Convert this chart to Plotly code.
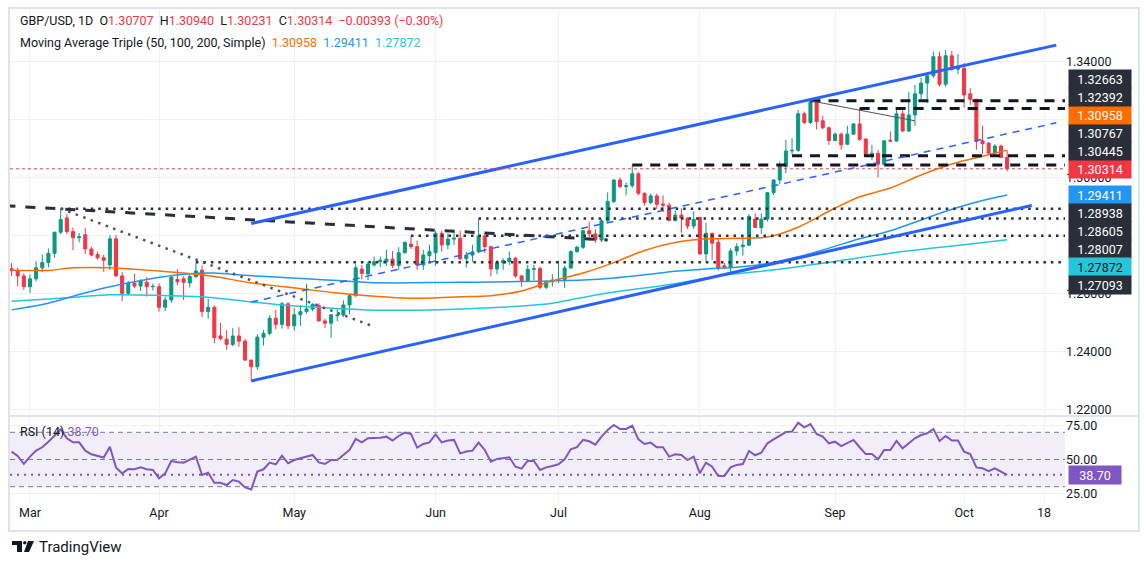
import pandas as pd
import plotly.graph_objects as go

# GBP/USD daily, 27 Feb - 10 Oct 2024
dates = pd.bdate_range("2024-02-27", "2024-10-10")

open_ = [
    1.2687, 1.2680, 1.2662,  # Feb
    1.2625, 1.2652, 1.2690, 1.2708, 1.2740, 1.2813, 1.2862, 1.2815, 1.2794, 1.2804, 1.2755,
    1.2736, 1.2725, 1.2700, 1.2790, 1.2662, 1.2602, 1.2637, 1.2627, 1.2640, 1.2625,  # Mar
    1.2625, 1.2554, 1.2579, 1.2650, 1.2652, 1.2638, 1.2660, 1.2682, 1.2539, 1.2554, 1.2455,
    1.2444, 1.2426, 1.2455, 1.2437, 1.2372, 1.2349, 1.2451, 1.2464, 1.2516, 1.2495, 1.2566,  # Apr
    1.2490, 1.2528, 1.2539, 1.2548, 1.2560, 1.2507, 1.2499, 1.2525, 1.2527, 1.2562, 1.2594,
    1.2686, 1.2669, 1.2700, 1.2712, 1.2711, 1.2720, 1.2698, 1.2742, 1.2772, 1.2763, 1.2700, 1.2732,  # May
    1.2742, 1.2809, 1.2769, 1.2789, 1.2792, 1.2721, 1.2734, 1.2745, 1.2800, 1.2763,
    1.2686, 1.2707, 1.2712, 1.2723, 1.2662, 1.2646, 1.2685, 1.2688, 1.2623, 1.2642,  # Jun
    1.2648, 1.2650, 1.2689, 1.2746, 1.2761, 1.2818, 1.2807, 1.2786, 1.2852, 1.2919, 1.2993, 1.2970,
    1.2973, 1.3014, 1.2947, 1.2915, 1.2938, 1.2910, 1.2906, 1.2853, 1.2872, 1.2861, 1.2834,  # Jul
    1.2864, 1.2738, 1.2809, 1.2778, 1.2697, 1.2691, 1.2748, 1.2763, 1.2768, 1.2858, 1.2829,
    1.2858, 1.2949, 1.2993, 1.3039, 1.3093, 1.3095, 1.3221, 1.3191, 1.3262, 1.3197, 1.3173,  # Aug
    1.3129, 1.3151, 1.3116, 1.3151, 1.3186, 1.3134, 1.3076, 1.3085, 1.3047, 1.3130, 1.3127,
    1.3221, 1.3162, 1.3217, 1.3290, 1.3327, 1.3352, 1.3418, 1.3323, 1.3421, 1.3375,  # Sep
    1.3378, 1.3290, 1.3271, 1.3128, 1.3120, 1.3085, 1.3110, 1.30707,  # Oct
]
high = [
    1.2706, 1.2690, 1.2671,
    1.2667, 1.2712, 1.2736, 1.2757, 1.2813, 1.2894, 1.2876, 1.2829, 1.2810, 1.2827, 1.2762,
    1.2746, 1.2735, 1.2803, 1.2803, 1.2675, 1.2645, 1.2670, 1.2651, 1.2658, 1.2636,
    1.2636, 1.2590, 1.2666, 1.2685, 1.2660, 1.2670, 1.2709, 1.2698, 1.2583, 1.2560, 1.2500,
    1.2475, 1.2482, 1.2485, 1.2445, 1.2372, 1.2461, 1.2475, 1.2527, 1.2545, 1.2572, 1.2571,
    1.2551, 1.2562, 1.2634, 1.2568, 1.2568, 1.2515, 1.2530, 1.2548, 1.2578, 1.2594, 1.2703,
    1.2700, 1.2711, 1.2729, 1.2729, 1.2752, 1.2748, 1.2761, 1.2780, 1.2801, 1.2784, 1.2752, 1.2769,
    1.2818, 1.2817, 1.2809, 1.2815, 1.2818, 1.2745, 1.2769, 1.2860, 1.2810, 1.2763,
    1.2717, 1.2723, 1.2746, 1.2728, 1.2666, 1.2700, 1.2700, 1.2694, 1.2645, 1.2668,
    1.2715, 1.2697, 1.2750, 1.2766, 1.2818, 1.2849, 1.2823, 1.2858, 1.2950, 1.2995, 1.3001, 1.2985,
    1.3044, 1.3020, 1.2950, 1.2946, 1.2946, 1.2940, 1.2915, 1.2888, 1.2895, 1.2864, 1.2885,
    1.2864, 1.2846, 1.2811, 1.2792, 1.2707, 1.2757, 1.2775, 1.2798, 1.2875, 1.2878, 1.2878,
    1.2952, 1.2995, 1.3056, 1.3131, 1.3137, 1.3234, 1.3229, 1.3266, 1.3266, 1.3215, 1.3177,
    1.3157, 1.3157, 1.3180, 1.3189, 1.3239, 1.3137, 1.3114, 1.3097, 1.3131, 1.3160, 1.3234,
    1.3234, 1.3297, 1.3321, 1.3346, 1.3364, 1.3436, 1.3436, 1.3441, 1.3438, 1.3427,
    1.3396, 1.3309, 1.3271, 1.3180, 1.3123, 1.3116, 1.3115, 1.30940,
]
low = [
    1.2662, 1.2626, 1.2614,
    1.2603, 1.2643, 1.2675, 1.2692, 1.2725, 1.2806, 1.2806, 1.2751, 1.2778, 1.2738, 1.2730,
    1.2718, 1.2676, 1.2683, 1.2658, 1.2575, 1.2598, 1.2620, 1.2610, 1.2591, 1.2612,
    1.2539, 1.2541, 1.2569, 1.2631, 1.2579, 1.2622, 1.2655, 1.2520, 1.2514, 1.2430, 1.2439,
    1.2407, 1.2419, 1.2418, 1.2368, 1.2300, 1.2338, 1.2422, 1.2458, 1.2478, 1.2480, 1.2478,
    1.2473, 1.2490, 1.2532, 1.2540, 1.2505, 1.2482, 1.2449, 1.2506, 1.2520, 1.2530, 1.2590,
    1.2650, 1.2648, 1.2694, 1.2692, 1.2697, 1.2689, 1.2683, 1.2740, 1.2755, 1.2683, 1.2683, 1.2711,
    1.2697, 1.2746, 1.2754, 1.2769, 1.2717, 1.2691, 1.2711, 1.2741, 1.2742, 1.2660,
    1.2668, 1.2683, 1.2700, 1.2656, 1.2625, 1.2642, 1.2648, 1.2616, 1.2617, 1.2625,
    1.2638, 1.2620, 1.2688, 1.2742, 1.2755, 1.2784, 1.2776, 1.2779, 1.2845, 1.2913, 1.2965, 1.2940,
    1.2966, 1.2940, 1.2905, 1.2910, 1.2893, 1.2882, 1.2850, 1.2850, 1.2811, 1.2824, 1.2824,
    1.2735, 1.2711, 1.2717, 1.2680, 1.2686, 1.2671, 1.2732, 1.2732, 1.2765, 1.2827, 1.2806,
    1.2850, 1.2941, 1.2978, 1.3016, 1.3082, 1.3090, 1.3185, 1.3186, 1.3167, 1.3168, 1.3114,
    1.3127, 1.3097, 1.3114, 1.3148, 1.3128, 1.3073, 1.3062, 1.3002, 1.3042, 1.3123, 1.3125,
    1.3158, 1.3158, 1.3180, 1.3272, 1.3258, 1.3345, 1.3315, 1.3314, 1.3369, 1.3358,
    1.3242, 1.3252, 1.3097, 1.3082, 1.3079, 1.3073, 1.3068, 1.30231,
]
close = [
    1.2680, 1.2662, 1.2625,
    1.2652, 1.2690, 1.2708, 1.2740, 1.2813, 1.2856, 1.2815, 1.2794, 1.2797, 1.2755, 1.2734,
    1.2725, 1.2716, 1.2790, 1.2662, 1.2602, 1.2637, 1.2627, 1.2646, 1.2625, 1.2626,
    1.2554, 1.2579, 1.2658, 1.2642, 1.2640, 1.2660, 1.2679, 1.2539, 1.2554, 1.2449, 1.2446,
    1.2426, 1.2455, 1.2437, 1.2372, 1.2349, 1.2451, 1.2464, 1.2516, 1.2495, 1.2566, 1.2490,
    1.2528, 1.2539, 1.2548, 1.2564, 1.2507, 1.2499, 1.2528, 1.2527, 1.2562, 1.2594, 1.2690,
    1.2671, 1.2703, 1.2711, 1.2716, 1.2720, 1.2698, 1.2742, 1.2778, 1.2763, 1.2700, 1.2734, 1.2746,
    1.2809, 1.2769, 1.2789, 1.2792, 1.2721, 1.2734, 1.2745, 1.2800, 1.2763, 1.2686,
    1.2708, 1.2715, 1.2723, 1.2662, 1.2646, 1.2685, 1.2687, 1.2623, 1.2642, 1.2648,
    1.2650, 1.2689, 1.2746, 1.2761, 1.2818, 1.2807, 1.2786, 1.2852, 1.2919, 1.2993, 1.2970, 1.2973,
    1.3014, 1.2947, 1.2915, 1.2938, 1.2909, 1.2906, 1.2853, 1.2872, 1.2861, 1.2834, 1.2857,
    1.2738, 1.2809, 1.2775, 1.2689, 1.2691, 1.2748, 1.2763, 1.2768, 1.2867, 1.2829, 1.2858,
    1.2949, 1.2993, 1.3039, 1.3093, 1.3095, 1.3221, 1.3191, 1.3262, 1.3194, 1.3173, 1.3129,
    1.3151, 1.3114, 1.3151, 1.3186, 1.3133, 1.3076, 1.3085, 1.3047, 1.3128, 1.3127, 1.3221,
    1.3162, 1.3217, 1.3290, 1.3327, 1.3352, 1.3418, 1.3323, 1.3421, 1.3375, 1.3378,
    1.3286, 1.3271, 1.3126, 1.3118, 1.3085, 1.3110, 1.30707, 1.30314,
]

# RSI (14)
rsi = [
    55.8, 52.6, 46.7,
    52.1, 56.5, 59.0, 63.1, 68.0, 72.2, 65.6, 62.6, 62.6, 56.5, 53.8, 52.6, 51.4, 59.4, 44.2, 39.8,
    43.0, 42.8, 44.2, 42.8, 42.3,
    36.1, 39.8, 48.9, 47.9, 47.7, 49.6, 52.1, 38.6, 40.3, 32.9, 32.9, 31.2, 34.9, 33.7, 29.5, 28.0,
    41.1, 42.8, 47.7, 46.4, 52.8, 47.2,
    49.6, 50.9, 52.1, 53.3, 47.9, 46.7, 49.6, 49.6, 53.3, 57.0, 65.1, 62.6, 65.6, 65.8, 66.0, 66.8,
    63.9, 67.3, 69.8, 68.8, 58.7, 61.4, 62.6,
    68.5, 62.6, 63.9, 64.4, 54.5, 55.8, 56.5, 62.4, 57.0, 48.4, 50.4, 50.9, 51.6, 44.7, 43.3, 49.1,
    48.9, 42.3, 44.2, 45.2,
    46.5, 50.1, 57.5, 59.0, 64.4, 63.4, 60.9, 66.8, 71.7, 75.4, 72.5, 72.5, 74.9, 64.8, 61.4, 62.4,
    59.0, 59.0, 52.1, 53.8, 53.3, 49.6, 52.1,
    39.8, 47.7, 44.7, 37.9, 37.9, 44.2, 46.0, 46.7, 56.3, 53.1, 55.0, 61.9, 64.8, 67.3, 70.2, 70.5,
    77.1, 73.7, 76.1, 68.8, 66.8, 61.9,
    63.1, 59.9, 61.9, 64.4, 59.0, 54.0, 54.0, 50.1, 57.0, 57.0, 63.6, 58.2, 61.9, 65.6, 68.0, 69.3,
    72.5, 63.6, 67.3, 63.9, 63.9,
    55.8, 54.0, 44.2, 43.5, 41.5, 43.5, 41.0, 38.70,
]
assert len(dates) == len(open_) == len(high) == len(low) == len(close) == len(rsi)

# moving averages, read at roughly weekly points
ma50_dates = ["2024-02-27", "2024-03-06", "2024-03-12", "2024-03-20", "2024-03-26", "2024-04-01",
              "2024-04-05", "2024-04-12", "2024-04-22", "2024-05-02", "2024-05-10", "2024-05-20",
              "2024-05-28", "2024-06-07", "2024-06-14", "2024-06-21", "2024-06-28", "2024-07-05",
              "2024-07-12", "2024-07-19", "2024-07-26", "2024-08-02", "2024-08-09", "2024-08-16",
              "2024-08-23", "2024-08-30", "2024-09-06", "2024-09-13", "2024-09-20", "2024-09-27",
              "2024-10-04", "2024-10-10"]
ma50 = [1.2682, 1.2681, 1.2690, 1.2690, 1.2685, 1.2679, 1.2672, 1.2660, 1.2638, 1.2618, 1.2603,
        1.2592, 1.2585, 1.2590, 1.2594, 1.2610, 1.2645, 1.2672, 1.2708, 1.2750, 1.2777, 1.2790,
        1.2792, 1.2796, 1.2830, 1.2885, 1.2935, 1.2965, 1.3010, 1.3048, 1.3075, 1.30958]

ma100_dates = ["2024-02-27", "2024-03-06", "2024-03-13", "2024-03-20", "2024-03-28", "2024-04-05",
               "2024-04-12", "2024-04-19", "2024-04-26", "2024-05-03", "2024-05-10", "2024-05-17",
               "2024-05-24", "2024-05-31", "2024-06-07", "2024-06-14", "2024-06-21", "2024-06-28",
               "2024-07-05", "2024-07-12", "2024-07-19", "2024-07-26", "2024-08-02", "2024-08-09",
               "2024-08-16", "2024-08-23", "2024-08-30", "2024-09-06", "2024-09-13", "2024-09-20",
               "2024-09-27", "2024-10-04", "2024-10-10"]
ma100 = [1.2545, 1.2568, 1.2598, 1.2625, 1.2650, 1.2668, 1.2672, 1.2664, 1.2658, 1.2652, 1.2646,
         1.2639, 1.2638, 1.2639, 1.2640, 1.2641, 1.2643, 1.2645, 1.2648, 1.2655, 1.2666, 1.2678,
         1.2686, 1.2692, 1.2705, 1.2728, 1.2758, 1.2790, 1.2818, 1.2855, 1.2892, 1.2922, 1.29411]

ma200_dates = ["2024-02-27", "2024-03-08", "2024-03-20", "2024-04-01", "2024-04-10", "2024-04-19",
               "2024-04-30", "2024-05-10", "2024-05-20", "2024-05-31", "2024-06-14", "2024-06-28",
               "2024-07-10", "2024-07-26", "2024-08-06", "2024-08-20", "2024-09-02", "2024-09-17",
               "2024-10-01", "2024-10-10"]
ma200 = [1.2575, 1.2585, 1.2597, 1.2595, 1.2590, 1.2575, 1.2560, 1.2550, 1.2544, 1.2545, 1.2552,
         1.2568, 1.2600, 1.2635, 1.2662, 1.2685, 1.2712, 1.2746, 1.2770, 1.27872]

# drawn levels: (price, start date)
dashed_levels = [(1.32663, "2024-08-27"), (1.32392, "2024-09-06"),
                 (1.30767, "2024-08-22"), (1.30445, "2024-07-17")]
dotted_levels = [(1.28938, "2024-03-08"), (1.28605, "2024-06-12"),
                 (1.28007, "2024-05-28"), (1.27093, "2024-04-09")]

# trend lines: (start date, start price, end date, end price)
channel_top = ("2024-04-22", 1.2843, "2024-10-22", 1.3458)
channel_bottom = ("2024-04-22", 1.2300, "2024-10-16", 1.2905)
channel_mid = ("2024-04-22", 1.2572, "2024-10-22", 1.3190)
old_resistance = ("2024-02-26", 1.2904, "2024-07-11", 1.2786)
march_downtrend = ("2024-03-08", 1.2894, "2024-05-20", 1.2487)
aug_top_line = ("2024-08-27", 1.3266, "2024-09-19", 1.3197)

tick_dates = ["2024-03-01", "2024-04-01", "2024-05-01", "2024-06-03", "2024-07-01",
              "2024-08-01", "2024-09-02", "2024-10-01", "2024-10-18"]
tick_labels = ["Mar", "Apr", "May", "Jun", "Jul", "Aug", "Sep", "Oct", "18"]
price_ticks = [1.22, 1.24, 1.26, 1.28, 1.30, 1.32, 1.34]
# 1.28 and 1.32 sit fully under the level labels, so they get no text
price_tick_text = ["1.22000", "1.24000", "1.26000", "", "1.30000", "", "1.34000"]
rsi_ticks = [25, 50, 75]

# colours
UP, DOWN = "#089981", "#f23645"
ORANGE, BLUE, TEAL = "#ff6d00", "#2196f3", "#26c6da"
PURPLE = "#7e57c2"
LINE_BLUE = "#2962ff"
INK = "#131722"
GRID = "#eef1f6"
LABEL_BG = "#2a2e39"
FONT = "Trebuchet MS, Roboto, sans-serif"

# page geometry (pixels)
W, H = 1144, 563
ML, MR, MT, MB = 10, 79, 10, 60
PW, PH = W - ML - MR, H - MT - MB


def px(x):
    return (x - ML) / PW


def py(y):
    return (H - MB - y) / PH


x_range = ["2024-02-26 18:00", "2024-10-23 10:00"]
y_range = [1.2186, 1.3579]
rsi_range = [18.0, 81.25]
breaks = [dict(bounds=["sat", "mon"])]

fig = go.Figure()

fig.add_trace(go.Candlestick(
    x=dates, open=open_, high=high, low=low, close=close,
    increasing=dict(line=dict(color=UP, width=1), fillcolor=UP),
    decreasing=dict(line=dict(color=DOWN, width=1), fillcolor=DOWN),
    whiskerwidth=0, hoverinfo="skip", xaxis="x", yaxis="y",
))
for d, v, c in [(ma200_dates, ma200, TEAL), (ma100_dates, ma100, BLUE), (ma50_dates, ma50, ORANGE)]:
    fig.add_trace(go.Scatter(x=d, y=v, mode="lines", line=dict(color=c, width=1.5, shape="spline", smoothing=0.8),
                             hoverinfo="skip", xaxis="x", yaxis="y"))

fig.add_trace(go.Scatter(x=dates, y=rsi, mode="lines", line=dict(color=PURPLE, width=2),
                         hoverinfo="skip", xaxis="x2", yaxis="y2"))

shapes = []


def seg(line, color, width, dash="solid"):
    x0, y0, x1, y1 = line
    shapes.append(dict(type="line", xref="x", yref="y", x0=x0, y0=y0, x1=x1, y1=y1,
                       line=dict(color=color, width=width, dash=dash)))


for price, start in dashed_levels:
    seg((start, price, x_range[1], price), INK, 3, "10px,8px")
for price, start in dotted_levels:
    seg((start, price, x_range[1], price), "#2a2e39", 2.5, "2.5px,5px")
seg(old_resistance, "#2a2e39", 3, "10px,10px")
seg(march_downtrend, "#50535e", 2.5, "2.5px,5.5px")
seg(aug_top_line, "#50535e", 1)
seg(channel_mid, LINE_BLUE, 1.5, "7px,6px")
seg(channel_top, LINE_BLUE, 3)
seg(channel_bottom, LINE_BLUE, 3)

# last price line
shapes.append(dict(type="line", xref="x domain", yref="y", x0=0, x1=1, y0=close[-1], y1=close[-1],
                   line=dict(color=DOWN, width=1, dash="dot")))

# RSI band and levels
shapes.append(dict(type="rect", xref="x2 domain", yref="y2", x0=0, x1=1, y0=30, y1=70,
                   fillcolor="rgba(126,87,194,0.1)", line=dict(width=0), layer="below"))
for lvl in (70, 50, 30):
    shapes.append(dict(type="line", xref="x2 domain", yref="y2", x0=0, x1=1, y0=lvl, y1=lvl,
                       line=dict(color="#787b86", width=1, dash="5px,4px")))
shapes.append(dict(type="line", xref="x2 domain", yref="y2", x0=0, x1=1, y0=rsi[-1], y1=rsi[-1],
                   line=dict(color=PURPLE, width=2, dash="2px,5px")))

# frame, pane separator
shapes.append(dict(type="rect", xref="paper", yref="paper", x0=px(9), x1=px(1139), y0=py(531), y1=py(8),
                   line=dict(color="#e0e3eb", width=2), fillcolor="rgba(0,0,0,0)"))
shapes.append(dict(type="line", xref="paper", yref="paper", x0=px(9), x1=px(1139), y0=py(416), y1=py(416),
                   line=dict(color="#e0e3eb", width=2)))

# TradingView logo
logo = [(12, 541, 22, 545), (17, 545, 22, 552)]
for x0, y0, x1, y1 in logo:
    shapes.append(dict(type="rect", xref="paper", yref="paper", x0=px(x0), x1=px(x1), y0=py(y1), y1=py(y0),
                       fillcolor=INK, line=dict(width=0)))
shapes.append(dict(type="circle", xref="paper", yref="paper", x0=px(23), x1=px(26.5), y0=py(544.5), y1=py(541),
                   fillcolor=INK, line=dict(width=0)))
shapes.append(dict(type="path", xref="paper", yref="paper",
                   path=f"M {px(28)} {py(541)} L {px(34)} {py(541)} L {px(29)} {py(552)} L {px(24)} {py(552)} Z",
                   fillcolor=INK, line=dict(width=0)))

annotations = []


def span(text, color):
    return f"<span style='color:{color}'>{text}</span>"


sp = "\u00a0\u00a0"
chg = close[-1] - close[-2]
pct = chg / close[-2] * 100
header1 = ("GBP/USD, 1D" + sp + "O" + span(f"{open_[-1]:.5f}", DOWN) + sp + "H" + span(f"{high[-1]:.5f}", DOWN)
           + sp + "L" + span(f"{low[-1]:.5f}", DOWN) + sp + "C" + span(f"{close[-1]:.5f}", DOWN) + sp
           + span(f"{chg:.5f} ({pct:.2f}%)".replace("-", "\u2212"), DOWN))
header2 = ("Moving Average Triple (50, 100, 200, Simple)" + sp + span(f"{ma50[-1]:.5f}", ORANGE) + sp
           + span(f"{ma100[-1]:.5f}", BLUE) + sp + span(f"{ma200[-1]:.5f}", TEAL))
for text, y in [(header1, 21), (header2, 43)]:
    annotations.append(dict(xref="paper", yref="paper", x=px(18), y=py(y), xanchor="left", yanchor="middle",
                            text=text, showarrow=False, font=dict(family=FONT, size=12.5, color=INK)))
annotations.append(dict(xref="paper", yref="paper", x=px(18), y=py(431), xanchor="left", yanchor="middle",
                        text="RSI (14)" + "\u00a0" + span(f"{rsi[-1]:.2f}", PURPLE), showarrow=False,
                        font=dict(family=FONT, size=12.5, color=INK)))
annotations.append(dict(xref="paper", yref="paper", x=px(37), y=py(547), xanchor="left", yanchor="middle",
                        text="TradingView", showarrow=False, font=dict(family="Roboto", size=15, color=INK)))

# price-scale labels, stacked away from the last price like TradingView does
labels = [(p, LABEL_BG, "white") for p, _ in dashed_levels + dotted_levels]
labels += [(ma50[-1], ORANGE, "white"), (ma100[-1], BLUE, "white"), (ma200[-1], TEAL, INK)]
gap = 18 * (y_range[1] - y_range[0]) / 404
placed = [(close[-1], close[-1], DOWN, "white")]
prev = close[-1]
for p, bg, fg in sorted([l for l in labels if l[0] > close[-1]]):
    prev = max(p, prev + gap)
    placed.append((p, prev, bg, fg))
prev = close[-1]
for p, bg, fg in sorted([l for l in labels if l[0] < close[-1]], reverse=True):
    prev = min(p, prev - gap)
    placed.append((p, prev, bg, fg))
for p, y, bg, fg in placed:
    annotations.append(dict(xref="paper", yref="y", x=1, y=y, xanchor="left", yanchor="middle", xshift=3,
                            text=f"{p:.5f}", showarrow=False, bgcolor=bg, width=60, height=16,
                            font=dict(family=FONT, size=12.5, color=fg)))
annotations.append(dict(xref="paper", yref="y2", x=1, y=rsi[-1], xanchor="left", yanchor="middle", xshift=3,
                        text=f"{rsi[-1]:.2f}", showarrow=False, bgcolor=PURPLE, width=50, height=16,
                        font=dict(family=FONT, size=12.5, color="white")))

axis_font = dict(family=FONT, size=12.5, color=INK)
fig.update_layout(
    width=W, height=H, margin=dict(l=ML, r=MR, t=MT, b=MB),
    paper_bgcolor="white", plot_bgcolor="white", showlegend=False,
    xaxis=dict(domain=[0, 1], anchor="y", type="date", range=x_range, rangebreaks=breaks,
               tickvals=tick_dates, showticklabels=False, showgrid=True, gridcolor=GRID,
               zeroline=False, rangeslider=dict(visible=False)),
    yaxis=dict(domain=[py(414), 1], anchor="x", side="right", range=y_range, tickvals=price_ticks,
               ticktext=price_tick_text, showgrid=True, gridcolor=GRID, zeroline=False, tickfont=axis_font),
    xaxis2=dict(domain=[0, 1], anchor="y2", type="date", range=x_range, rangebreaks=breaks, matches="x",
                tickvals=tick_dates, ticktext=tick_labels, showgrid=True, gridcolor=GRID,
                zeroline=False, tickfont=axis_font),
    yaxis2=dict(domain=[0, py(417)], anchor="x2", side="right", range=rsi_range, tickvals=rsi_ticks,
                ticktext=[f"{t:.2f}" for t in rsi_ticks], showgrid=True, gridcolor=GRID, zeroline=False,
                tickfont=axis_font),
    shapes=shapes, annotations=annotations,
)

# the page's default 8px body margin would push the chart off its place
fig.write_html("out.html", config=dict(displayModeBar=False),
               post_script="document.body.style.margin='0px';")
